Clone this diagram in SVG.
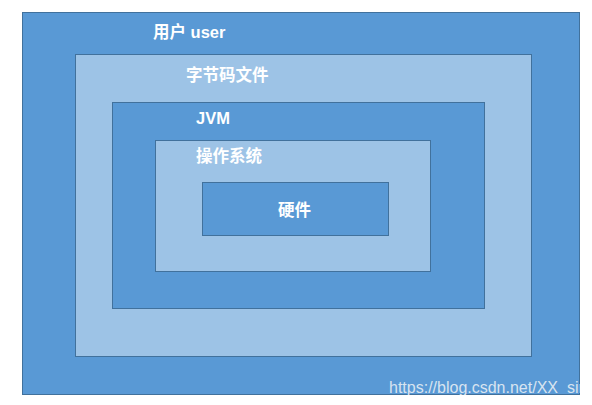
<svg xmlns="http://www.w3.org/2000/svg" width="592" height="405" viewBox="0 0 592 405">
<defs><clipPath id="c"><rect x="22" y="12" width="558" height="383"/></clipPath></defs>
<style>
.d{fill:#5999d5;stroke:#41719c;stroke-width:1}
.l{fill:#9dc3e6;stroke:#41719c;stroke-width:1}
.t{font-family:"Liberation Sans","Noto Sans CJK SC",sans-serif;font-weight:bold;font-size:16.5px;fill:#fff}
.w{font-family:"Liberation Sans",sans-serif;font-size:16px;fill:#d8e4f0}
</style>
<rect width="592" height="405" fill="#fff"/>
<g id="user"><rect class="d" x="22.5" y="12.5" width="557" height="382"/><text class="t" x="153" y="38">用户 user</text></g>
<g id="bytecode"><rect class="l" x="75.5" y="54.5" width="456" height="302"/><text class="t" x="186" y="81">字节码文件</text></g>
<g id="jvm"><rect class="d" x="112.5" y="102.5" width="372" height="206"/><text class="t" x="196" y="124">JVM</text></g>
<g id="os"><rect class="l" x="155.5" y="140.5" width="275" height="131"/><text class="t" x="196" y="162">操作系统</text></g>
<g id="hw"><rect class="d" x="202.5" y="182.5" width="186" height="53"/><text class="t" x="278" y="216">硬件</text></g>
<g id="connectors"/>
<text class="w" x="389" y="393" clip-path="url(#c)">https://blog.csdn.net/XX_sir</text>
</svg>
